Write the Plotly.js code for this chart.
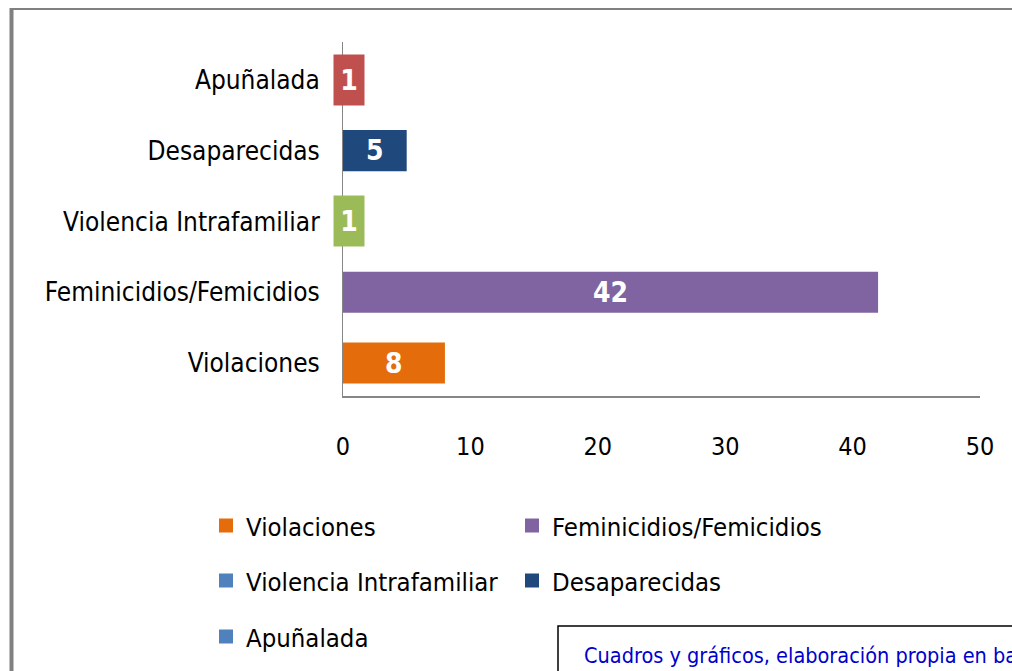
<!DOCTYPE html>
<html>
<head>
<meta charset="utf-8">
<script src="https://cdn.plot.ly/plotly-3.0.1.min.js"></script>
<style>
  html, body { margin: 0; padding: 0; background: #ffffff; }
  #chart { width: 1012px; height: 671px; }
  svg text { font-stretch: condensed !important; }
</style>
</head>
<body>
<div id="chart"></div>
<script>
// ---- Data ----
const categories = ['Violaciones', 'Feminicidios/Femicidios', 'Violencia Intrafamiliar', 'Desaparecidas', 'Apuñalada'];
const values = [8, 42, 1, 5, 1];
const barColors = ['#E46C0A', '#8064A2', '#9BBB59', '#1F497D', '#C0504D'];
const legendColors = ['#E46C0A', '#8064A2', '#4F81BD', '#1F497D', '#4F81BD'];
const xTicks = [0, 10, 20, 30, 40, 50];
const sourceText = 'Cuadros y gráficos, elaboración propia en base';

// ---- Layout geometry ----
const W = 1012, H = 671;
const M = { l: 343, r: 32, t: 42, b: 275 };
const plotW = W - M.l - M.r, plotH = H - M.t - M.b;
const px2x = p => (p - M.l) / plotW;
const py2y = p => (H - M.b - p) / plotH;
const FONT = '"DejaVu Sans Condensed", "DejaVu Sans", sans-serif';
const xMax = 50;

// legend slots (2 columns x 3 rows), pixel positions of each legend box (container coords)
const legendSlots = [[206, 526], [512, 526], [206, 581], [512, 581], [206, 637]];
const legendIds = ['legend', 'legend2', 'legend3', 'legend4', 'legend5'];

const traces = [{
  type: 'bar',
  orientation: 'h',
  y: categories,
  x: values,
  marker: { color: barColors },
  showlegend: false,
  hoverinfo: 'skip'
}];

categories.forEach((c, i) => {
  traces.push({
    type: 'scatter',
    mode: 'markers',
    x: [null], y: [null],
    name: c,
    legend: legendIds[i],
    marker: { symbol: 'square', size: 14, color: legendColors[i] },
    hoverinfo: 'skip'
  });
});

// Data labels (white, bold); narrow bars get a label box in the bar colour
const annotations = values.map((v, i) => {
  const barPx = v / xMax * plotW;
  const narrow = barPx < 30;
  const a = {
    x: v / 2, y: categories[i], xref: 'x', yref: 'y',
    text: '<b>' + v + '</b>', showarrow: false,
    font: { family: FONT, size: 28, color: '#ffffff' },
    xanchor: 'center', yanchor: 'middle'
  };
  if (narrow) {
    a.bgcolor = barColors[i];
    a.width = 28; a.height = 48; a.borderpad = 1;
  }
  return a;
});

annotations.push({
  x: px2x(582), y: py2y(655), xref: 'paper', yref: 'paper',
  xanchor: 'left', yanchor: 'middle', showarrow: false,
  text: sourceText,
  font: { family: FONT, size: 21.5, color: '#0000CC' }
});

const layout = {
  width: W, height: H,
  margin: M,
  paper_bgcolor: '#ffffff',
  plot_bgcolor: '#ffffff',
  bargap: 0.42,
  xaxis: {
    range: [0, xMax], autorange: false,
    tickvals: xTicks,
    showgrid: false, zeroline: false,
    showline: true, linecolor: '#868686', linewidth: 2,
    ticks: '',
    ticklabelstandoff: 27,
    tickfont: { family: FONT, size: 25, color: '#000000' },
    fixedrange: true
  },
  yaxis: {
    type: 'category',
    categoryorder: 'array', categoryarray: categories,
    range: [-0.466, categories.length - 0.466], autorange: false,
    showgrid: false, zeroline: false,
    showline: true, linecolor: '#868686', linewidth: 1,
    ticks: '',
    ticklabelstandoff: 17,
    tickfont: { family: FONT, size: 26, color: '#000000' },
    fixedrange: true
  },
  annotations: annotations,
  shapes: [
    // top frame line
    { type: 'line', xref: 'paper', yref: 'paper', x0: px2x(11), x1: px2x(1015), y0: py2y(9), y1: py2y(9),
      line: { color: '#808080', width: 2 } },
    // left frame line
    { type: 'line', xref: 'paper', yref: 'paper', x0: px2x(11.5), x1: px2x(11.5), y0: py2y(8), y1: py2y(680),
      line: { color: '#808080', width: 4 } },
    // source box
    { type: 'rect', xref: 'paper', yref: 'paper', x0: px2x(558), x1: px2x(1030), y0: py2y(626), y1: py2y(690),
      line: { color: '#000000', width: 1.5 }, fillcolor: 'rgba(0,0,0,0)' }
  ],
  showlegend: true,
  hovermode: false
};

legendIds.forEach((id, i) => {
  layout[id] = {
    orientation: 'h',
    xref: 'container', yref: 'container',
    xanchor: 'left', yanchor: 'middle',
    x: legendSlots[i][0] / W, y: 1 - legendSlots[i][1] / H,
    font: { family: FONT, size: 25.5, color: '#000000' },
    bgcolor: 'rgba(0,0,0,0)',
    itemclick: false, itemdoubleclick: false
  };
});

Plotly.newPlot('chart', traces, layout, { displayModeBar: false, staticPlot: true });
</script>
</body>
</html>
